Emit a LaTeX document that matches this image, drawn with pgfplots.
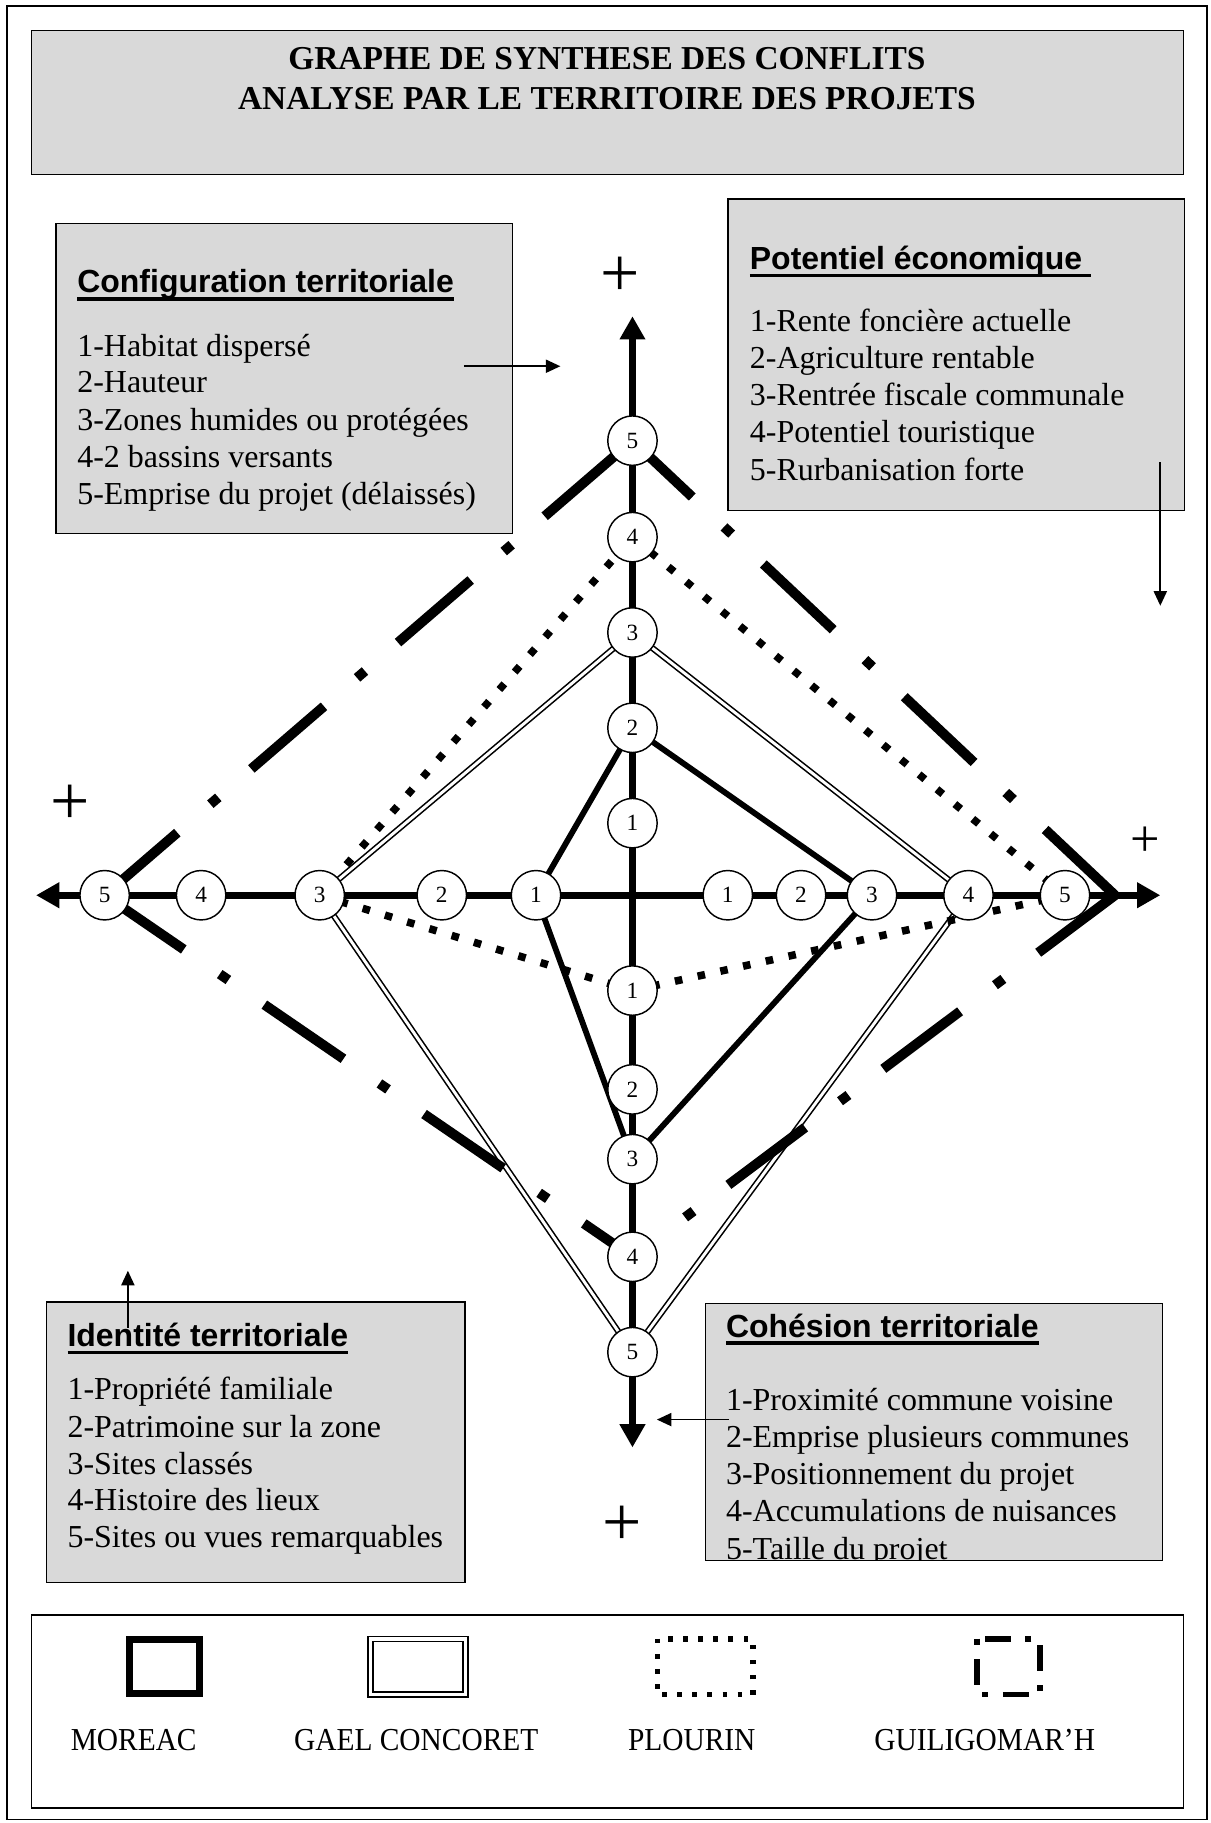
\documentclass[border=0pt]{standalone}
\usepackage{fontspec}
\setmainfont{Liberation Serif}
\setsansfont{Liberation Sans}
\newfontfamily\legfont[FakeStretch=0.92]{Liberation Serif}
\usepackage{pgfplots}
\pgfplotsset{compat=1.18}
\usetikzlibrary{arrows.meta}
\definecolor{boxgray}{RGB}{217,217,217}

% Word-style underline: sits just under the baseline, through the descenders
\newcommand\ul[1]{\setbox0\hbox{#1}\rlap{\rule[-2.6pt]{\wd0}{1.1pt}}\box0}

\tikzset{
  txt/.style={anchor=base west, inner sep=0pt, font=\fontsize{11}{13}\selectfont},
  hd/.style={anchor=base west, inner sep=0pt, font=\sffamily\bfseries\fontsize{11}{13}\selectfont},
  plus/.style={inner sep=0pt, font=\fontsize{24}{24}\selectfont},
  ptr/.style={line width=0.6pt, -{Triangle[length=5pt,width=4.5pt]}},
  box/.style={draw=black, line width=0.5pt, fill=boxgray},
}

\begin{document}
\begin{tikzpicture}
\begin{axis}[
  width=416.4pt, height=627.2pt, scale only axis,
  xmin=0, xmax=1041, ymin=0, ymax=1568, y dir=reverse,
  hide axis, clip=false,
]
\path (axis cs:0,0) rectangle (axis cs:1041,1568);
% outer frame and title
\draw[line width=0.6pt] (axis cs:6,5) rectangle (axis cs:1038,1565);
\draw[box] (axis cs:27,26) rectangle (axis cs:1018,150);
\node[anchor=base, inner sep=0pt, font=\bfseries\fontsize{11.5}{13}\selectfont] at (axis cs:522,59.5) {GRAPHE DE SYNTHESE DES CONFLITS};
\node[anchor=base, inner sep=0pt, font=\bfseries\fontsize{11.5}{13}\selectfont] at (axis cs:522,94) {ANALYSE PAR LE TERRITOIRE DES PROJETS};

% top-left box
\draw[box] (axis cs:48,192) rectangle (axis cs:441,459);
\node[hd] at (axis cs:66,252) {\ul{Configuration territoriale}};
\node[txt] at (axis cs:66,307) {1-Habitat dispersé};
\node[txt] at (axis cs:66,338) {2-Hauteur};
\node[txt] at (axis cs:66,370) {3-Zones humides ou protégées};
\node[txt] at (axis cs:66,402) {4-2 bassins versants};
\node[txt] at (axis cs:66,434) {5-Emprise du projet (délaissés)};

% top-right box
\draw[box] (axis cs:626,171) rectangle (axis cs:1019,439);
\node[hd] at (axis cs:644.5,232) {\ul{Potentiel économique\ }};
\node[txt] at (axis cs:644.5,285) {1-Rente foncière actuelle};
\node[txt] at (axis cs:644.5,317) {2-Agriculture rentable};
\node[txt] at (axis cs:644.5,349) {3-Rentrée fiscale communale};
\node[txt] at (axis cs:644.5,381) {4-Potentiel touristique};
\node[txt] at (axis cs:644.5,413) {5-Rurbanisation forte};

% bottom-left box
\draw[box] (axis cs:40,1120) rectangle (axis cs:400,1361);
\node[hd] at (axis cs:57.6,1158) {\ul{Identité territoriale}};
\node[txt] at (axis cs:57.6,1204) {1-Propriété familiale};
\node[txt] at (axis cs:57.6,1236) {2-Patrimoine sur la zone};
\node[txt] at (axis cs:57.6,1268) {3-Sites classés};
\node[txt] at (axis cs:57.6,1299) {4-Histoire des lieux};
\node[txt] at (axis cs:57.6,1331) {5-Sites ou vues remarquables};

% bottom-right box (last line cut by the box edge)
\draw[box] (axis cs:607,1121) rectangle (axis cs:1000,1342);
\node[hd] at (axis cs:624,1150) {\ul{Cohésion territoriale}};
\node[txt] at (axis cs:624,1213) {1-Proximité commune voisine};
\node[txt] at (axis cs:624,1245) {2-Emprise plusieurs communes};
\node[txt] at (axis cs:624,1277) {3-Positionnement du projet};
\node[txt] at (axis cs:624,1309) {4-Accumulations de nuisances};
\node[txt] at (axis cs:624,1341.5) {5-Taille du projet};
\fill[white] (axis cs:605,1342.3) rectangle (axis cs:1002,1362);
\draw[line width=0.5pt] (axis cs:607,1121) rectangle (axis cs:1000,1342);

% MOREAC
\addplot[line width=2pt, line join=miter] coordinates {
  (544,626) (750,770) (544,997) (461,770) (544,626)
};
% GAEL CONCORET
\addplot[draw=black, double=white, line width=0.55pt, double distance=1pt] coordinates {
  (544,544) (833,770) (544,1163) (275,770) (544,544)
};
% PLOURIN
\addplot[line width=2.6pt, dash pattern=on 2.6pt off 5.4pt] coordinates {
  (544,462) (916,770) (544,852) (275,770) (544,462)
};
% GUILIGOMAR'H, one segment per edge so each starts on a dash
\addplot[line width=3.4pt, dash pattern=on 33pt off 15pt on 3.6pt off 15pt] coordinates {(90,770) (544,379)};
\addplot[line width=3.4pt, dash pattern=on 33pt off 15pt on 3.6pt off 15pt] coordinates {(959,770) (544,379)};
\addplot[line width=3.4pt, dash pattern=on 33pt off 15pt on 3.6pt off 15pt] coordinates {(959,770) (544,1081)};
\addplot[line width=3.4pt, dash pattern=on 33pt off 15pt on 3.6pt off 15pt] coordinates {(90,770) (544,1081)};

% the four axes
\addplot[line width=2.3pt, {Triangle[length=8pt,width=8.4pt]}-{Triangle[length=8pt,width=8.4pt]}] coordinates {(544,272) (544,1245)};
\addplot[line width=2.3pt, {Triangle[length=8pt,width=8.4pt]}-{Triangle[length=8pt,width=8.4pt]}] coordinates {(31,770) (998,770)};

% graduations 1..5 on each half-axis
\addplot[only marks, mark=*, mark size=8.5pt,
  mark options={fill=white, draw=black, line width=0.5pt, solid},
  nodes near coords, point meta=explicit symbolic,
  nodes near coords align={anchor=center},
  every node near coord/.append style={inner sep=0pt, font=\fontsize{8}{8}\selectfont},
] coordinates {
  (544,708)[1] (544,626)[2] (544,544)[3] (544,462)[4] (544,379)[5]
  (544,852)[1] (544,937)[2] (544,997)[3] (544,1081)[4] (544,1163)[5]
  (461,770)[1] (380,770)[2] (275,770)[3] (173,770)[4] (90,770)[5]
  (626,770)[1] (689,770)[2] (750,770)[3] (833,770)[4] (916,770)[5]
};

\node[plus] at (axis cs:533,238) {+};
\node[plus] at (axis cs:60,692) {+};
\node[plus] at (axis cs:535,1312) {+};
\node[plus, font=\fontsize{18}{18}\selectfont] at (axis cs:985,724) {+};

% pointers from the boxes
\draw[ptr] (axis cs:399,315) -- (axis cs:482,315);
\draw[ptr] (axis cs:998,397.5) -- (axis cs:998,521);
\draw[ptr] (axis cs:110,1142) -- (axis cs:110,1093);
\draw[ptr] (axis cs:627,1221) -- (axis cs:565,1221);

% legend
\draw[line width=0.5pt] (axis cs:27,1389) rectangle (axis cs:1018,1555);
\draw[line width=2.4pt] (axis cs:111,1410) rectangle (axis cs:172,1457);
\draw[draw=black, double=white, line width=0.5pt, double distance=1.2pt] (axis cs:318.7,1409.7) rectangle (axis cs:400.3,1457.3);
\draw[line width=2pt, dash pattern=on 1.6pt off 3.6pt] (axis cs:565.5,1409.5) rectangle (axis cs:647.5,1457.5);
\draw[line width=2pt, dash pattern=on 2pt off 5pt on 9pt off 5pt] (axis cs:840.5,1409.5) rectangle (axis cs:894.5,1457.5);
\node[anchor=base, inner sep=0pt, font=\legfont\fontsize{11}{13}\selectfont] at (axis cs:115,1506) {MOREAC};
\node[anchor=base, inner sep=0pt, font=\legfont\fontsize{11}{13}\selectfont] at (axis cs:358,1506) {GAEL CONCORET};
\node[anchor=base, inner sep=0pt, font=\legfont\fontsize{11}{13}\selectfont] at (axis cs:595,1506) {PLOURIN};
\node[anchor=base, inner sep=0pt, font=\legfont\fontsize{11}{13}\selectfont] at (axis cs:847,1506) {GUILIGOMAR’H};
\end{axis}
\end{tikzpicture}
\end{document}
